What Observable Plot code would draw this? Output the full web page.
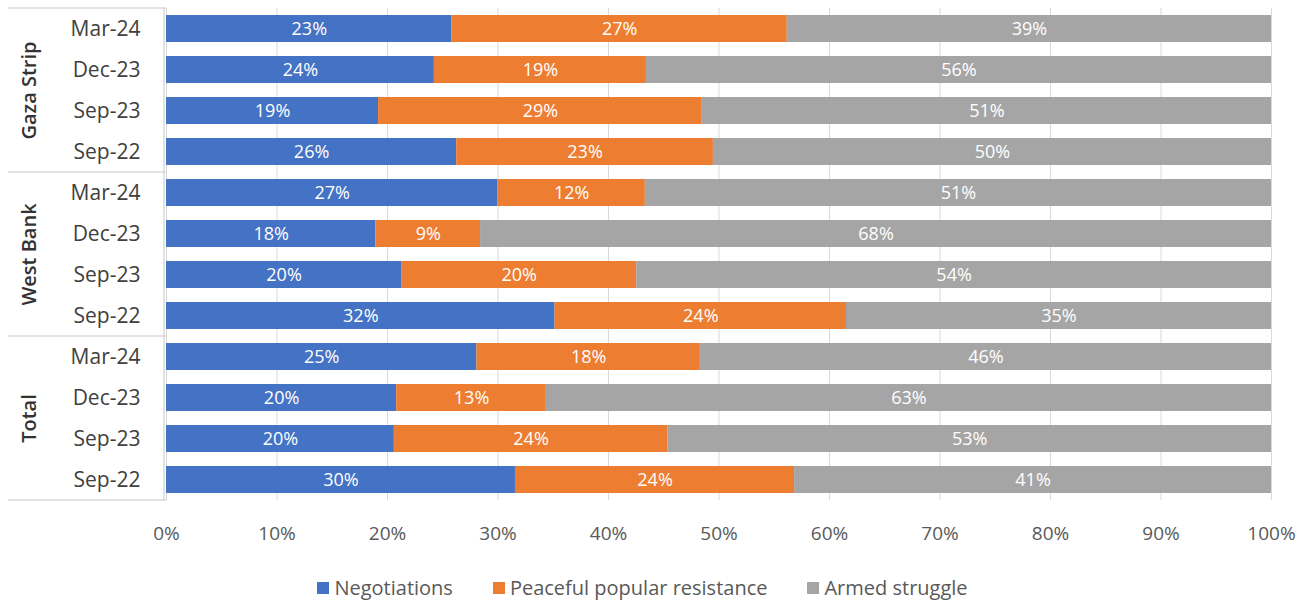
<!DOCTYPE html>
<html>
<head>
<meta charset="utf-8">
<script src="https://cdn.jsdelivr.net/npm/d3@7"></script>
<script src="https://cdn.jsdelivr.net/npm/@observablehq/plot@0.6"></script>
<style>
  body { margin: 0; background: #fff; font-family: "Open Sans", Lato, sans-serif; }
  #legend { display: flex; justify-content: center; gap: 40px; padding-right: 26px; margin-top: 19px;
            font-size: 20px; color: #595959; }
  #legend .item { display: flex; align-items: center; }
  #legend .sw { width: 12px; height: 12px; margin-right: 5px; display: inline-block; }
</style>
</head>
<body>
<div id="chart"></div>
<div id="legend"></div>
<script>
// Regions (facets) and survey rounds (rows within each facet)
const groups = ["Gaza Strip", "West Bank", "Total"];
const periods = ["Mar-24", "Dec-23", "Sep-23", "Sep-22"];

// Series
const seriesNames = ["Negotiations", "Peaceful popular resistance", "Armed struggle"];
const seriesColors = ["#4472C4", "#ED7D31", "#A5A5A5"];

// Percent values, one inner array per region, in the order of `periods`
const negotiations = [[23, 24, 19, 26], [27, 18, 20, 32], [25, 20, 20, 30]];
const peaceful     = [[27, 19, 29, 23], [12,  9, 20, 24], [18, 13, 24, 24]];
const armed        = [[39, 56, 51, 50], [51, 68, 54, 35], [46, 63, 53, 41]];

const seriesValues = [negotiations, peaceful, armed];

const rows = [];
groups.forEach((g, gi) => {
  periods.forEach((p, pi) => {
    seriesNames.forEach((s, si) => {
      rows.push({group: g, period: p, series: s, value: seriesValues[si][gi][pi]});
    });
  });
});

const stackOpts = {offset: "normalize", order: seriesNames, x: "value", y: "period", fy: "group", z: "series"};
const font = "'Open Sans', Lato, sans-serif";

const chart = Plot.plot({
  width: 1311,
  height: 555,
  marginLeft: 166,
  marginRight: 40,
  marginTop: 8,
  marginBottom: 55,
  style: {fontFamily: font, fontSize: "18px", background: "white", overflow: "visible"},
  x: {domain: [0, 1], axis: null},
  fy: {domain: groups, padding: 0, axis: null},
  y: {domain: periods, paddingInner: 0.34, paddingOuter: 0.17, axis: null},
  color: {domain: seriesNames, range: seriesColors},
  marks: [
    Plot.gridX({ticks: 10, stroke: "#d9d9d9", strokeOpacity: 1}),
    Plot.barX(rows, Plot.stackX({...stackOpts, fill: "series"})),
    Plot.text(rows, Plot.stackX({...stackOpts, text: d => `${d.value}%`, fill: "white", fontSize: 18})),
    Plot.axisY({tickSize: 0, tickPadding: 26, fontSize: 21, fill: "#404040", label: null}),
    Plot.axisX({ticks: 10, tickFormat: d3.format(".0%"), tickSize: 0, tickPadding: 26,
                fontSize: 19, fill: "#595959", label: null}),
    Plot.text(groups, {fy: d => d, text: d => d, frameAnchor: "left", textAnchor: "middle",
                       rotate: -90, dx: -137, fontSize: 20, fontWeight: 600, fill: "#333333"})
  ]
});

// Category-axis separators between region groups, drawn in the left margin
const fy = chart.scale("fy");
const xs = chart.scale("x");
const x0 = xs.apply(0);
const edges = groups.map(g => fy.apply(g)).concat([fy.apply(groups[groups.length - 1]) + fy.bandwidth]);
const deco = d3.select(chart).append("g").attr("stroke", "#d9d9d9").attr("stroke-width", 1.5);
edges.forEach(y => {
  deco.append("line").attr("x1", 8).attr("x2", x0).attr("y1", y).attr("y2", y);
});
deco.append("line").attr("x1", x0 - 2).attr("x2", x0 - 2).attr("y1", edges[0]).attr("y2", edges[edges.length - 1]);

document.getElementById("chart").appendChild(chart);

// Legend
const legend = d3.select("#legend");
seriesNames.forEach((s, i) => {
  const item = legend.append("div").attr("class", "item");
  item.append("span").attr("class", "sw").style("background", seriesColors[i]);
  item.append("span").text(s);
});
</script>
</body>
</html>
